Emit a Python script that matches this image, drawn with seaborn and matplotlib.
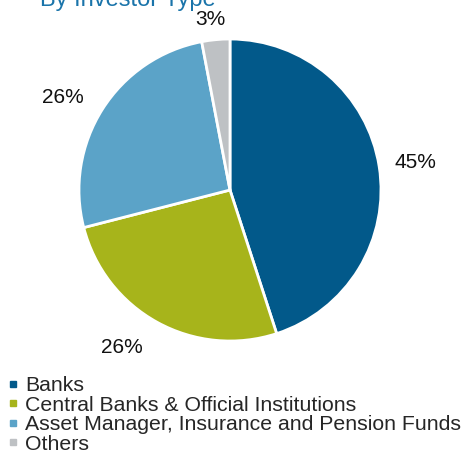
import numpy as np
import matplotlib
matplotlib.use("Agg")
import matplotlib.pyplot as plt
import seaborn as sns
from matplotlib.lines import Line2D

sns.set_theme(style="white")
plt.rcParams['font.family'] = ['Liberation Sans', 'DejaVu Sans']

categories = ["Banks", "Central Banks & Official Institutions",
              "Asset Manager, Insurance and Pension Funds", "Others"]
values = [45, 26, 26, 3]
pct_labels = ["45%", "26%", "26%", "3%"]
colors = ["#02598a", "#a7b41b", "#5ba3c8", "#bec1c4"]
title = "By Investor Type"

# label positions (radius units) as placed in the reference
label_pos = [(1.225, 0.18), (-0.715, -1.04), (-1.106, 0.61), (-0.13, 1.126)]

fig = plt.figure(figsize=(4.63, 4.53), dpi=100)
ax = fig.add_axes([0.1706, 0.2472, 0.6523, 0.6667])
wedges, _ = ax.pie(values, colors=colors, startangle=90, counterclock=False,
                   radius=1.0, wedgeprops=dict(edgecolor="white", linewidth=2))
for (x, y), t in zip(label_pos, pct_labels):
    ax.text(x, y, t, ha="center", va="center", fontsize=15, color="#111111")
ax.set_xlim(-1, 1)
ax.set_ylim(-1, 1)
ax.set_aspect("equal")
ax.axis("off")

fig.text(40 / 463, 1 - 6 / 453, title, fontsize=17, color="#1a74aa",
         ha="left", va="baseline")

handles = [Line2D([0], [0], marker="s", linestyle="none", markersize=4.5,
                  markerfacecolor=c, markeredgecolor=c) for c in colors]
fig.legend(handles, categories, loc="upper left",
           bbox_to_anchor=(0.017, 1 - 376 / 453), frameon=False, fontsize=15.3,
           handlelength=0.5, handletextpad=0.3, labelspacing=0.03,
           borderaxespad=0, borderpad=0.0)

fig.savefig("out.png", dpi=100)
